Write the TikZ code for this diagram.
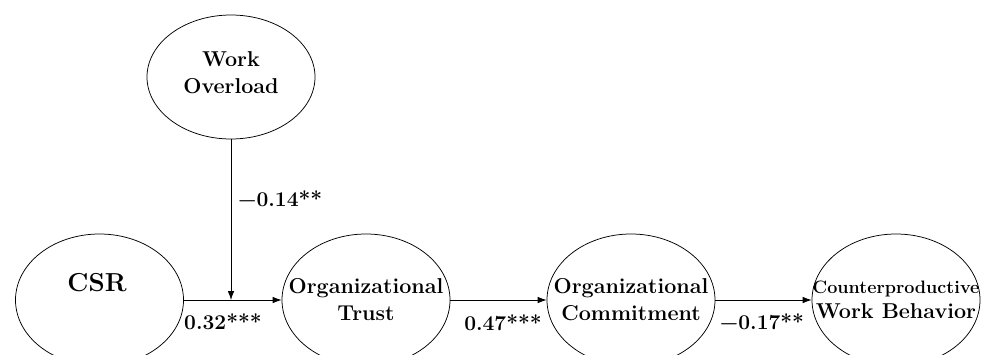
\documentclass[tikz,border=0pt]{standalone}
\usepackage{fontspec}
\usetikzlibrary{shapes.geometric,arrows.meta}
\tikzset{
  var/.style={draw, ellipse, line width=0.75pt, minimum width=168pt, minimum height=132pt, inner sep=0pt},
  vtext/.style={align=center, inner sep=0pt, font=\fontsize{21.5}{27}\selectfont\bfseries},
  path/.style={line width=0.75pt, -{Latex[length=9pt,width=6.5pt]}},
  coef/.style={font=\fontsize{21}{25}\selectfont\bfseries, inner sep=0pt}
}
\begin{document}
\begin{tikzpicture}[x=1pt,y=-1pt]
\useasboundingbox (0,0) rectangle (981,354);
\node[var, minimum height=124pt] (wo) at (231,77) {};
\node[vtext] (wot) at (231,73) {Work\\Overload};
\node[var] (csr) at (99.5,300) {};
\node[vtext, font=\fontsize{26}{30}\selectfont\bfseries] (csrt) at (97,283) {CSR};
\node[var] (ot) at (366,300) {};
\node[vtext] (ott) at (366,300) {Organizational\\Trust};
\node[var] (oc) at (631,300) {};
\node[vtext] (oct) at (631,300) {Organizational\\Commitment};
\node[var] (cwb) at (896,300) {};
\node[vtext, font=\fontsize{21.5}{25}\selectfont\bfseries] (cwbt) at (896,300) {{\fontsize{18}{20}\selectfont Counterproductive}\\Work Behavior};
\coordinate (m) at (231,300);
\draw[path] (csr.east) -- (ot.west);
\draw[path] (wo.south) -- (m);
\draw[path] (ot.east) -- (oc.west);
\draw[path] (oc.east) -- (cwb.west);
\node[coef, anchor=west] (c1) at (238,199) {−0.14**};
\node[coef] (c2) at (223,322) {0.32***};
\node[coef] (c3) at (503,323) {0.47***};
\node[coef] (c4) at (762,322) {−0.17**};
\end{tikzpicture}
\end{document}
